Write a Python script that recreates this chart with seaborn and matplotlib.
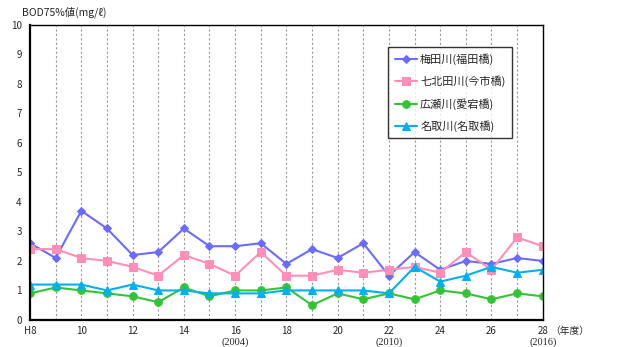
import pandas as pd
import matplotlib
matplotlib.use('Agg')
import matplotlib.pyplot as plt
import matplotlib.transforms as mtransforms
import seaborn as sns

# fiscal years (Heisei 8 .. 28)
years = list(range(8, 29))

umeda = [2.6, 2.1, 3.7, 3.1, 2.2, 2.3, 3.1, 2.5, 2.5, 2.6, 1.9,
         2.4, 2.1, 2.6, 1.5, 2.3, 1.7, 2.0, 1.9, 2.1, 2.0]
nanakita = [2.4, 2.4, 2.1, 2.0, 1.8, 1.5, 2.2, 1.9, 1.5, 2.3, 1.5,
            1.5, 1.7, 1.6, 1.7, 1.8, 1.6, 2.3, 1.7, 2.8, 2.5]
hirose = [0.9, 1.1, 1.0, 0.9, 0.8, 0.6, 1.1, 0.8, 1.0, 1.0, 1.1,
          0.5, 0.9, 0.7, 0.9, 0.7, 1.0, 0.9, 0.7, 0.9, 0.8]
natori = [1.2, 1.2, 1.2, 1.0, 1.2, 1.0, 1.0, 0.9, 0.9, 0.9, 1.0,
          1.0, 1.0, 1.0, 0.9, 1.8, 1.3, 1.5, 1.8, 1.6, 1.7]

series_names = ['梅田川(福田橋)', '七北田川(今市橋)', '広瀬川(愛宕橋)', '名取川(名取橋)']
series_vals = [umeda, nanakita, hirose, natori]

xtick_pos = list(range(8, 29, 2))
xtick_labels = ['H8'] + [str(v) for v in range(10, 29, 2)]
western = {16: '(2004)', 22: '(2010)', 28: '(2016)'}

rows = []
for name, vals in zip(series_names, series_vals):
    for y, v in zip(years, vals):
        rows.append({'year': y, 'value': v, 'river': name})
df = pd.DataFrame(rows)

sns.set_style('white')
plt.rcParams['font.family'] = ['Noto Sans CJK JP', 'DejaVu Sans']

colors = ['#6B6BFF', '#FF8FB8', '#33C433', '#00B0F0']
markers = ['D', 's', 'o', '^']
msizes = [4.2, 5.5, 5.5, 5.5]

fig = plt.figure(figsize=(6.26, 3.47), dpi=100)
ax = fig.add_axes([0.048, 0.078, 0.819, 0.85])

for name, c, m, ms in zip(series_names, colors, markers, msizes):
    sns.lineplot(data=df[df['river'] == name], x='year', y='value', color=c,
                 marker=m, markersize=ms, markeredgecolor=c, linewidth=1.5,
                 label=name, ax=ax)

ax.set_xlim(8, 28)
ax.set_ylim(0, 10)
ax.set_yticks(range(0, 11))
ax.set_xticks(years, minor=True)
ax.set_xticks(xtick_pos)
ax.set_xticklabels(xtick_labels, fontsize=7)
ax.tick_params(axis='y', labelsize=7, direction='out', length=3, width=1, pad=3)
ax.tick_params(axis='x', which='both', direction='inout', length=5, width=1, pad=2)
ax.set_xlabel('')
ax.set_ylabel('')

for y in range(9, 28):
    ax.axvline(y, color='#999999', linestyle=(0, (2, 2)), linewidth=0.8, zorder=0)

for s in ['left', 'bottom']:
    ax.spines[s].set_linewidth(1.6)
    ax.spines[s].set_color('black')
for s in ['top', 'right']:
    ax.spines[s].set_linewidth(1.0)
    ax.spines[s].set_color('black')

trans = mtransforms.blended_transform_factory(ax.transData, ax.transAxes)
for x, lab in western.items():
    ax.text(x, -0.058, lab, transform=trans, ha='center', va='top',
            fontsize=7.5, family=['Liberation Serif', 'DejaVu Serif'])
ax.text(28.3, -0.02, '（年度）', transform=trans, ha='left', va='top', fontsize=7)

fig.text(0.035, 0.982, 'BOD75%値(mg/ℓ)', ha='left', va='top', fontsize=7.5)

leg = ax.legend(loc='upper left', bbox_to_anchor=(0.698, 0.925), fontsize=8,
                frameon=True, fancybox=False, edgecolor='black', labelspacing=0.95,
                handlelength=2.0, borderpad=0.6, handletextpad=0.3, borderaxespad=0)
leg.get_frame().set_linewidth(1.0)

plt.savefig('out.png', dpi=100)
